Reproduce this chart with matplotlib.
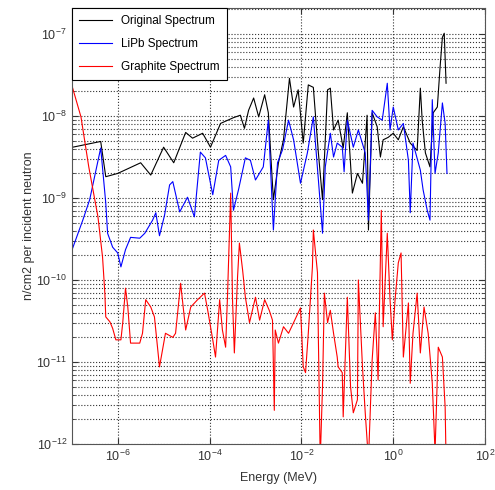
import numpy as np
import matplotlib
matplotlib.use("Agg")
import matplotlib.pyplot as plt
from matplotlib.ticker import LogLocator, NullLocator

plt.rcParams['font.family'] = ['Liberation Sans', 'DejaVu Sans']
plt.rcParams['mathtext.default'] = 'regular'

# data, kept as log10(energy in MeV) and log10(flux)
orig_loge = [-6.98, -6.37, -6.26, -6.00, -5.50, -5.28, -5.00, -4.78, -4.52, -4.37,
             -4.15, -3.98, -3.76, -3.48, -3.33, -3.24, -3.15, -3.04, -2.93, -2.80,
             -2.72, -2.61, -2.50, -2.39, -2.26, -2.17, -2.07, -1.96, -1.85, -1.74,
             -1.63, -1.54, -1.43, -1.37, -1.30, -1.20, -1.09, -1.00, -0.89, -0.78,
             -0.67, -0.57, -0.54, -0.46, -0.35, -0.28, -0.22, -0.11, 0.00, 0.11,
             0.22, 0.37, 0.52, 0.59, 0.63, 0.70, 0.80, 0.87, 0.96, 1.02,
             1.07, 1.11, 1.15]
orig_logf = [-8.38, -8.31, -8.74, -8.70, -8.57, -8.72, -8.38, -8.57, -8.20, -8.27,
             -8.21, -8.38, -8.09, -8.02, -7.99, -8.15, -7.93, -7.78, -8.01, -7.74,
             -7.96, -9.02, -8.57, -8.29, -7.54, -7.89, -7.68, -8.33, -7.62, -7.65,
             -8.45, -9.02, -7.68, -7.66, -8.17, -8.05, -8.39, -7.96, -8.94, -8.70,
             -8.82, -7.99, -9.39, -7.96, -8.13, -8.50, -8.29, -8.26, -8.21, -8.29,
             -8.13, -8.33, -8.42, -7.66, -8.05, -8.45, -8.62, -7.96, -7.89, -7.40,
             -7.04, -6.99, -7.60]

lipb_loge = [-6.98, -6.76, -6.61, -6.37, -6.26, -6.22, -6.11, -6.00, -5.93, -5.83,
             -5.72, -5.52, -5.41, -5.24, -5.17, -5.09, -4.98, -4.87, -4.80, -4.65,
             -4.48, -4.33, -4.20, -4.09, -3.93, -3.80, -3.65, -3.54, -3.48, -3.37,
             -3.22, -3.11, -3.00, -2.83, -2.72, -2.63, -2.61, -2.52, -2.41, -2.28,
             -2.17, -2.02, -1.87, -1.74, -1.63, -1.54, -1.48, -1.37, -1.30, -1.22,
             -1.11, -1.07, -1.00, -0.87, -0.76, -0.61, -0.54, -0.46, -0.35, -0.24,
             -0.13, -0.07, 0.00, 0.11, 0.22, 0.33, 0.37, 0.43, 0.59, 0.65,
             0.74, 0.80, 0.85, 0.91, 0.98, 1.07, 1.13, 1.17]
lipb_logf = [-9.61, -9.27, -9.02, -8.39, -9.06, -9.43, -9.60, -9.67, -9.84, -9.63,
             -9.48, -9.49, -9.43, -9.27, -9.18, -9.46, -9.21, -8.84, -8.80, -9.17,
             -8.99, -9.23, -8.44, -8.51, -8.96, -8.54, -8.48, -8.62, -9.15, -8.90,
             -8.51, -8.54, -8.78, -8.62, -8.05, -9.15, -9.39, -8.57, -8.41, -8.05,
             -8.29, -8.82, -8.45, -8.01, -8.78, -9.43, -8.62, -8.21, -8.50, -8.33,
             -8.38, -8.68, -8.05, -8.38, -8.17, -8.45, -9.27, -7.93, -8.01, -8.05,
             -7.60, -8.17, -7.89, -8.17, -8.09, -8.54, -9.18, -8.33, -8.66, -8.90,
             -9.15, -9.27, -7.80, -8.70, -8.45, -7.84, -8.09, -8.70]

graph_loge = [-6.98, -6.80, -6.63, -6.43, -6.33, -6.28, -6.26, -6.17, -6.11, -6.04,
              -5.93, -5.89, -5.83, -5.78, -5.72, -5.52, -5.46, -5.39, -5.28, -5.20,
              -5.09, -4.96, -4.80, -4.74, -4.63, -4.52, -4.41, -4.26, -4.11, -4.04,
              -3.93, -3.87, -3.78, -3.72, -3.65, -3.61, -3.54, -3.50, -3.46, -3.39,
              -3.35, -3.28, -3.22, -3.13, -3.00, -2.91, -2.80, -2.70, -2.63, -2.59,
              -2.57, -2.50, -2.39, -2.28, -2.17, -2.02, -1.96, -1.91, -1.85, -1.76,
              -1.74, -1.65, -1.63, -1.59, -1.54, -1.50, -1.43, -1.37, -1.30, -1.22,
              -1.20, -1.11, -1.09, -1.00, -0.93, -0.87, -0.78, -0.76, -0.67, -0.61,
              -0.54, -0.46, -0.39, -0.33, -0.26, -0.22, -0.13, -0.07, -0.02, 0.04,
              0.11, 0.17, 0.22, 0.33, 0.37, 0.43, 0.52, 0.59, 0.67, 0.76,
              0.85, 0.91, 0.98, 1.07, 1.13, 1.15]
graph_logf = [-7.66, -8.01, -8.62, -9.23, -9.72, -10.16, -10.45, -10.51, -10.59, -10.73,
              -10.73, -10.52, -10.10, -10.33, -10.77, -10.77, -10.65, -10.24, -10.33, -10.45,
              -11.06, -10.65, -10.70, -10.65, -10.04, -10.61, -10.33, -10.24, -10.16, -10.37,
              -10.73, -10.94, -10.24, -10.61, -10.82, -10.21, -8.94, -10.24, -10.89, -9.96,
              -9.55, -9.88, -10.21, -10.52, -10.21, -10.49, -10.24, -10.37, -10.49, -11.59,
              -10.61, -10.77, -10.57, -10.65, -10.52, -10.34, -11.06, -11.13, -10.65, -9.84,
              -9.39, -9.91, -10.73, -12.20, -11.30, -10.16, -10.52, -10.37, -10.65, -10.94,
              -11.06, -11.13, -11.67, -10.21, -11.30, -11.62, -11.46, -10.00, -11.06, -11.62,
              -12.20, -10.98, -10.40, -11.22, -9.15, -10.57, -9.43, -10.24, -10.73, -10.24,
              -9.79, -9.67, -10.94, -10.28, -11.26, -10.65, -10.16, -10.89, -10.33, -10.65,
              -11.26, -12.10, -10.82, -10.94, -11.55, -12.20]

x_ticks = [1e-6, 1e-4, 1e-2, 1e0, 1e2]

fig = plt.figure(figsize=(4.95, 4.9), dpi=100)
ax = fig.add_axes([0.145, 0.094, 0.835, 0.89])

ax.plot(10 ** np.array(orig_loge), 10 ** np.array(orig_logf), color='black', lw=0.8, label='Original Spectrum')
ax.plot(10 ** np.array(lipb_loge), 10 ** np.array(lipb_logf), color='#0000ff', lw=0.8, label='LiPb Spectrum')
ax.plot(10 ** np.array(graph_loge), 10 ** np.array(graph_logf), color='#ff0000', lw=0.8, label='Graphite Spectrum')

ax.set_xscale('log')
ax.set_yscale('log')
ax.set_xlim(1e-7, 1e2)
ax.set_ylim(1e-12, 10 ** -6.68)

ax.set_xticks(x_ticks)
ax.xaxis.set_minor_locator(NullLocator())
ax.yaxis.set_major_locator(LogLocator(base=10, numticks=12))
ax.yaxis.set_minor_locator(LogLocator(base=10, subs=np.arange(2, 10), numticks=12))

# matlab style dotted grid
ax.grid(True, which='major', axis='both', linestyle=':', color='#333333', lw=0.8)
ax.grid(True, which='minor', axis='y', linestyle=':', color='#333333', lw=0.8)

ax.tick_params(which='both', direction='in', top=True, right=True, labelsize=9, colors='#333333')
ax.tick_params(which='major', length=4)
ax.tick_params(which='minor', length=2)
for s in ax.spines.values():
    s.set_color('#555555')
    s.set_linewidth(0.8)

ax.set_xlabel('Energy (MeV)', fontsize=9, color='#333333', labelpad=6)
ax.set_ylabel('n/cm2 per incident neutron', fontsize=9, color='#333333', labelpad=1)

leg = ax.legend(loc='upper left', fontsize=8.5, fancybox=False, framealpha=1,
                edgecolor='black', borderaxespad=0, handlelength=2.8,
                labelspacing=0.95, borderpad=0.6)
leg.get_frame().set_linewidth(0.8)

plt.savefig('out.png', dpi=100)
